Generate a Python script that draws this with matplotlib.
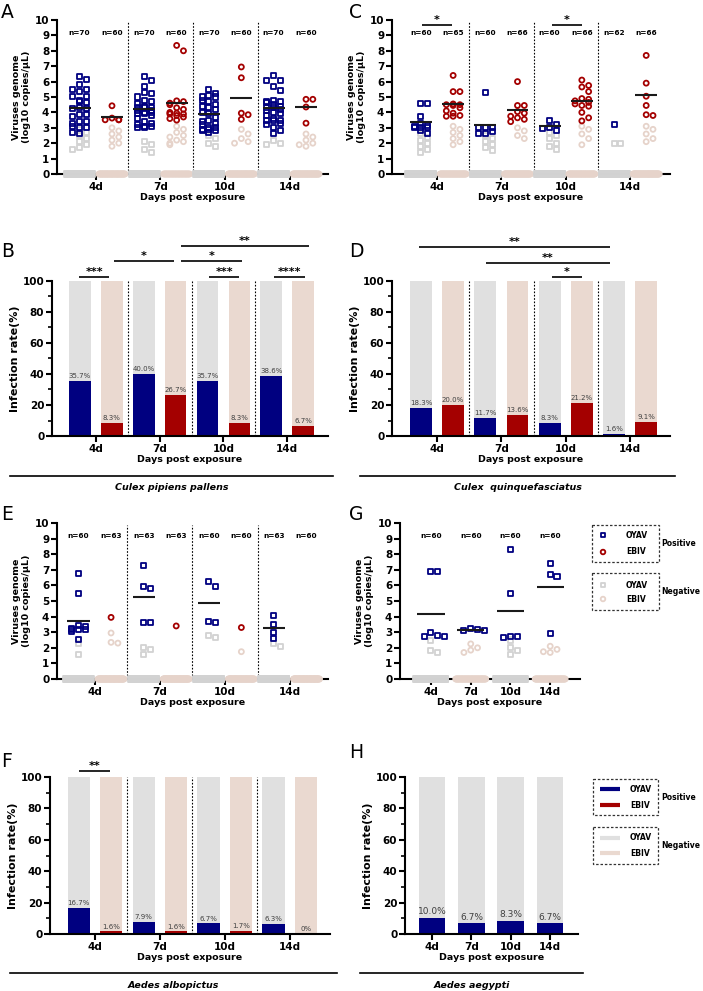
import numpy as np
import matplotlib
matplotlib.use("Agg")
import matplotlib.pyplot as plt
from matplotlib.patches import Rectangle

W, H = 703, 991
plt.rcParams['font.family'] = ['DejaVu Sans']
plt.rcParams['font.weight'] = 'bold'
plt.rcParams['axes.labelweight'] = 'bold'

NAVY = '#000080'
RED = '#a40000'
GRAY_BG = '#e0e0e0'
PINK_BG = '#ead9d0'
GRAY_NEG = '#d2d2d2'
PINK_NEG = '#e6d3ca'

days = ['4d', '7d', '10d', '14d']

# ---------------- Panel A (Culex pipiens pallens, viral load) ----------------
A_oyav_pos = [
    [6.33, 6.16, 5.8, 5.5, 5.46, 5.35, 5.03, 5.03, 4.8, 4.7, 4.65, 4.3, 4.28, 4.28,
     3.85, 3.85, 3.75, 3.4, 3.4, 3.3, 3.1, 3.0, 3.0, 2.7, 2.6],
    [6.3, 6.1, 5.7, 5.3, 5.2, 5.0, 4.8, 4.7, 4.6, 4.4, 4.0, 4.35, 4.3, 4.3, 3.9, 4.15,
     4.1, 4.0, 3.9, 3.8, 3.6, 3.4, 3.3, 3.2, 3.1, 3.1, 3.0, 3.0],
    [5.5, 5.2, 5.1, 5.0, 5.0, 4.8, 4.7, 4.5, 4.4, 4.3, 4.2, 4.0, 3.9, 3.7, 3.5, 3.4,
     3.3, 3.2, 3.0, 3.0, 2.9, 2.9, 2.8, 2.8, 2.7],
    [6.4, 6.1, 6.05, 5.7, 5.4, 4.75, 4.7, 4.7, 4.65, 4.5, 4.4, 4.3, 4.3, 4.2, 4.1, 4.0,
     3.9, 3.8, 3.6, 3.5, 3.5, 3.45, 3.3, 3.2, 3.0, 2.8, 2.6],
]
A_ebiv_pos = [
    [4.43, 3.63, 3.52, 3.52, 3.52],
    [8.35, 8.0, 4.75, 4.7, 4.6, 4.5, 4.3, 4.2, 4.0, 3.95, 3.9, 3.9, 3.8, 3.7, 3.6, 3.5],
    [6.95, 6.25, 3.95, 3.85, 3.55],
    [4.85, 4.85, 4.35, 3.3],
]
A_oyav_neg = [[2.9, 2.7, 2.5, 2.3, 2.1, 1.9, 1.7, 1.6], [2.1, 1.9, 1.6, 1.4],
              [2.5, 2.3, 2.0, 1.8], [2.2, 2.0, 1.9]]
A_ebiv_neg = [[3.0, 2.8, 2.6, 2.4, 2.2, 2.0, 1.8], [3.1, 2.9, 2.7, 2.5, 2.4, 2.2, 2.1, 2.0, 1.9],
              [2.9, 2.6, 2.3, 2.1, 2.0], [2.6, 2.4, 2.2, 2.0, 1.9, 1.8]]
A_n_oyav = [70, 70, 70, 70]
A_n_ebiv = [60, 60, 60, 60]

# ---------------- Panel C (Culex quinquefasciatus, viral load) ----------------
C_oyav_pos = [
    [4.6, 4.6, 3.75, 3.25, 3.15, 3.1, 3.05, 3.05, 3.0, 2.85, 2.65],
    [5.3, 3.05, 3.05, 3.05, 2.75, 2.6, 2.6],
    [3.5, 3.2, 3.05, 2.95, 2.85],
    [3.2],
]
C_ebiv_pos = [
    [6.4, 5.35, 5.35, 4.55, 4.5, 4.5, 4.45, 4.3, 4.1, 3.95, 3.8, 3.75, 3.75],
    [6.0, 4.45, 4.45, 4.05, 3.95, 3.75, 3.65, 3.55, 3.4],
    [6.1, 5.75, 5.65, 5.35, 4.9, 4.85, 4.75, 4.65, 4.55, 4.45, 4.4, 4.0, 3.65, 3.45],
    [7.7, 5.9, 5.05, 4.45, 3.85, 3.8],
]
C_oyav_neg = [[2.6, 2.4, 2.2, 2.0, 1.8, 1.6, 1.4], [2.5, 2.3, 2.1, 1.9, 1.7, 1.5],
              [2.7, 2.5, 2.3, 2.0, 1.8, 1.6], [2.0, 1.95]]
C_ebiv_neg = [[3.1, 2.9, 2.7, 2.5, 2.3, 2.1, 1.9], [3.0, 2.8, 2.5, 2.3],
              [3.1, 2.9, 2.6, 2.3, 1.9], [3.1, 2.9, 2.6, 2.3, 2.1]]
C_n_oyav = [60, 60, 60, 62]
C_n_ebiv = [65, 66, 66, 66]

# ---------------- Panel E (Aedes albopictus, viral load) ----------------
E_oyav_pos = [
    [6.75, 5.5, 3.4, 3.35, 3.25, 3.2, 3.2, 3.2, 3.05, 2.55],
    [7.25, 5.95, 5.8, 3.65, 3.6],
    [6.25, 5.9, 3.7, 3.6],
    [4.05, 3.5, 3.0, 2.6],
]
E_ebiv_pos = [[3.95], [3.4], [3.3], []]
E_oyav_neg = [[2.3, 1.6], [2.05, 1.9, 1.6], [2.8, 2.65], [2.3, 2.1]]
E_ebiv_neg = [[2.95, 2.35, 2.3], [], [1.75], []]
E_n_oyav = [60, 63, 60, 63]
E_n_ebiv = [63, 63, 60, 60]

# ---------------- Panel G (Aedes aegypti, viral load) ----------------
G_oyav_pos = [
    [6.9, 6.9, 2.95, 2.8, 2.75, 2.7],
    [3.25, 3.2, 3.1, 3.1],
    [8.3, 5.45, 2.7, 2.7, 2.65],
    [7.4, 6.7, 6.55, 2.9],
]
G_neg = [[2.45, 1.8, 1.7], [2.25, 2.0, 1.85, 1.7], [2.5, 2.0, 1.8, 1.6], [2.1, 1.9, 1.75, 1.7]]
G_n = [60, 60, 60, 60]

# ---------------- Infection rates (%) ----------------
B_oyav = [35.7, 40.0, 35.7, 38.6]
B_ebiv = [8.3, 26.7, 8.3, 6.7]
D_oyav = [18.3, 11.7, 8.3, 1.6]
D_ebiv = [20.0, 13.6, 21.2, 9.1]
F_oyav = [16.7, 7.9, 6.7, 6.3]
F_ebiv = [1.6, 1.6, 1.7, 0.0]
H_oyav = [10.0, 6.7, 8.3, 6.7]

# significance annotations: (x0, x1, y, label)
B_sig = [(-0.27, 0.21, 102.6, '***'), (0.29, 1.22, 112.9, '*'), (1.33, 2.29, 112.9, '*'),
         (1.33, 3.34, 122.6, '**'), (1.78, 2.25, 102.6, '***'), (2.80, 3.28, 102.6, '****')]
D_sig = [(-0.28, 2.69, 121.7, '**'), (0.76, 2.69, 111.8, '**'), (1.78, 2.25, 102.8, '*')]
F_sig = [(-0.25, 0.23, 104.0, '**')]
C_sig = [(-0.23, 0.23, 9.68, '*'), (1.79, 2.25, 9.68, '*')]

fig = plt.figure(figsize=(W / 100, H / 100), dpi=100)


def make_ax(l, r, t, b, xlim, ylim):
    ax = fig.add_axes([l / W, 1 - b / H, (r - l) / W, (b - t) / H])
    ax.set_xlim(*xlim)
    ax.set_ylim(*ylim)
    for s in ['top', 'right']:
        ax.spines[s].set_visible(False)
    for s in ['left', 'bottom']:
        ax.spines[s].set_linewidth(1.5)
    ax.tick_params(width=1.5, length=4, labelsize=7.5, pad=1.5)
    ax.patch.set_alpha(0)
    return ax


def px_per_unit(ax):
    pos = ax.get_position()
    xl = ax.get_xlim()
    yl = ax.get_ylim()
    return pos.width * W / (xl[1] - xl[0]), pos.height * H / (yl[1] - yl[0])


def swarm(vals, center, ppx, ppy, d=6.8, maxhalf=14):
    offs = [0.0]
    k = 1
    while k * d <= maxhalf + 0.01:
        offs += [k * d, -k * d]
        k += 1
    placed = []
    xs = []
    for i, v in enumerate(vals):
        yp = v * ppy
        chosen = None
        for o in offs:
            if all(abs(o - px) >= d * 0.9 or abs(yp - py) >= d * 0.9 for px, py in placed):
                chosen = o
                break
        if chosen is None:
            chosen = offs[i % len(offs)]
        placed.append((chosen, yp))
        xs.append(center + chosen / ppx)
    return np.array(xs)


def draw_group(ax, c, pos, neg, n, col, negcol, mk, ppx, ppy, halfw=13, meanhalf=0.17, d=6.8):
    pos = sorted(pos, reverse=True)
    neg = sorted(neg, reverse=True)
    nz = n - len(pos) - len(neg)
    if nz > 0:
        xz = np.linspace(c - halfw / ppx, c + halfw / ppx, nz)
        ax.scatter(xz, np.zeros(nz), marker=mk, s=13, facecolors='none', edgecolors=negcol,
                   linewidths=1.3, clip_on=False, zorder=3)
    if neg:
        xn = swarm(neg, c, ppx, ppy, d=d, maxhalf=halfw)
        ax.scatter(xn, neg, marker=mk, s=13, facecolors='none', edgecolors=negcol,
                   linewidths=1.3, clip_on=False, zorder=3)
    if pos:
        xp = swarm(pos, c, ppx, ppy, d=d, maxhalf=halfw)
        ax.scatter(xp, pos, marker=mk, s=13, facecolors='none', edgecolors=col,
                   linewidths=1.3, clip_on=False, zorder=4)
    if len(pos) >= 2:
        ax.hlines(np.mean(pos), c - meanhalf, c + meanhalf, color='#1a1a1a', lw=1.5, zorder=5)


def scatter_panel(ax, oy_pos, eb_pos, oy_neg, eb_neg, n_oy, n_eb, sep=True):
    ppx, ppy = px_per_unit(ax)
    for i in range(4):
        draw_group(ax, i - 0.25, oy_pos[i], oy_neg[i], n_oy[i], NAVY, GRAY_NEG, 's', ppx, ppy)
        draw_group(ax, i + 0.25, eb_pos[i], eb_neg[i], n_eb[i], RED, PINK_NEG, 'o', ppx, ppy)
        ax.text(i - 0.25, 9.15, f'n={n_oy[i]}', ha='center', va='center', fontsize=5.3)
        ax.text(i + 0.25, 9.15, f'n={n_eb[i]}', ha='center', va='center', fontsize=5.3)
    if sep:
        ax.vlines([0.5, 1.5, 2.5], 0, 9.85, colors='k', linestyles=(0, (1.5, 1.5)), lw=0.8)
    ax.set_yticks(range(0, 11))
    ax.set_xticks(range(4))
    ax.set_xticklabels(days)
    ax.set_ylabel('Viruses genome\n(log10 copies/μL)', fontsize=6.8, labelpad=3, linespacing=1.1)
    ax.set_xlabel('Days post exposure', fontsize=6.8, labelpad=1)


def fmt(v):
    return '0%' if v == 0 else f'{v:.1f}%'


def bar_panel(ax, oy, eb=None, width=0.34, off=0.25, lab_fs=5.0):
    x = np.arange(4)
    if eb is None:
        ax.bar(x, 100, width, color=GRAY_BG, zorder=1)
        ax.bar(x, oy, width, color=NAVY, zorder=2)
        for xi, v in zip(x, oy):
            ax.text(xi, v + 1.2, fmt(v), ha='center', va='bottom', fontsize=lab_fs,
                    color='#404040', weight='normal')
    else:
        ax.bar(x - off, 100, width, color=GRAY_BG, zorder=1)
        ax.bar(x + off, 100, width, color=PINK_BG, zorder=1)
        ax.bar(x - off, oy, width, color=NAVY, zorder=2)
        ax.bar(x + off, eb, width, color=RED, zorder=2)
        for xi, v in zip(x - off, oy):
            ax.text(xi, v + 1.2, fmt(v), ha='center', va='bottom', fontsize=lab_fs,
                    color='#404040', weight='normal')
        for xi, v in zip(x + off, eb):
            ax.text(xi, v + 1.2, fmt(v), ha='center', va='bottom', fontsize=lab_fs,
                    color='#404040', weight='normal')
        ax.vlines([0.5, 1.5, 2.5], 0, 100, colors='k', linestyles=(0, (1.5, 1.5)), lw=0.8, zorder=3)
    ax.set_yticks(range(0, 101, 20))
    ax.set_yticks(range(10, 100, 20), minor=True)
    ax.tick_params(which='minor', width=1.2, length=3)
    ax.set_xticks(range(4))
    ax.set_xticklabels(days)
    ax.set_ylabel('Infection rate(%)', fontsize=8, labelpad=2)
    ax.set_xlabel('Days post exposure', fontsize=6.8, labelpad=1)


def sig(ax, items, fs=8):
    for x0, x1, y, t in items:
        ax.plot([x0, x1], [y, y], color='k', lw=1.2, clip_on=False, solid_capstyle='butt')
        ax.annotate(t, xy=((x0 + x1) / 2, y), xytext=(0, 1.5), textcoords='offset points',
                    ha='center', va='baseline', fontsize=fs, annotation_clip=False)


# ---- A
axA = make_ax(57, 328, 20, 174, (-0.60, 3.59), (0, 10))
scatter_panel(axA, A_oyav_pos, A_ebiv_pos, A_oyav_neg, A_ebiv_neg, A_n_oyav, A_n_ebiv)

# ---- C
axC = make_ax(392, 670, 20, 174, (-0.70, 3.62), (0, 10))
scatter_panel(axC, C_oyav_pos, C_ebiv_pos, C_oyav_neg, C_ebiv_neg, C_n_oyav, C_n_ebiv)
sig(axC, C_sig)

# ---- B
axB = make_ax(52, 328, 281, 436, (-0.69, 3.64), (0, 100))
bar_panel(axB, B_oyav, B_ebiv)
sig(axB, B_sig)

# ---- D
axD = make_ax(392, 670, 281, 436, (-0.70, 3.62), (0, 100))
bar_panel(axD, D_oyav, D_ebiv)
sig(axD, D_sig)

# ---- E
axE = make_ax(57, 328, 523, 679, (-0.58, 3.58), (0, 10))
scatter_panel(axE, E_oyav_pos, E_ebiv_pos, E_oyav_neg, E_ebiv_neg, E_n_oyav, E_n_ebiv)

# ---- G
axG = make_ax(400, 580, 523, 679, (-0.78, 3.75), (0, 10))
ppx, ppy = px_per_unit(axG)
G_neg_style = [(GRAY_NEG, 's'), (PINK_NEG, 'o'), (GRAY_NEG, 's'), (PINK_NEG, 'o')]
for i in range(4):
    nc, nm = G_neg_style[i]
    neg = sorted(G_neg[i], reverse=True)
    nz = G_n[i] - len(G_oyav_pos[i]) - len(neg)
    xz = np.linspace(i - 15 / ppx, i + 15 / ppx, nz)
    axG.scatter(xz, np.zeros(nz), marker=nm, s=13, facecolors='none', edgecolors=nc,
                linewidths=1.3, clip_on=False, zorder=3)
    xn = swarm(neg, i, ppx, ppy, maxhalf=14)
    axG.scatter(xn, neg, marker=nm, s=13, facecolors='none', edgecolors=nc,
                linewidths=1.3, clip_on=False, zorder=3)
    pos = sorted(G_oyav_pos[i], reverse=True)
    xp = swarm(pos, i, ppx, ppy, maxhalf=14)
    axG.scatter(xp, pos, marker='s', s=13, facecolors='none', edgecolors=NAVY,
                linewidths=1.3, clip_on=False, zorder=4)
    axG.hlines(np.mean(pos), i - 0.34, i + 0.34, color='#1a1a1a', lw=1.5, zorder=5)
    axG.text(i, 9.15, f'n={G_n[i]}', ha='center', va='center', fontsize=5.3)
axG.set_yticks(range(0, 11))
axG.set_xticks(range(4))
axG.set_xticklabels(days)
axG.set_ylabel('Viruses genome\n(log10 copies/μL)', fontsize=6.8, labelpad=3, linespacing=1.1)
axG.set_xlabel('Days post exposure', fontsize=6.8, labelpad=1)

# ---- F
axF = make_ax(50, 330, 777, 934, (-0.69, 3.62), (0, 100))
bar_panel(axF, F_oyav, F_ebiv)
sig(axF, F_sig)

# ---- H
axH = make_ax(405, 578, 777, 934, (-0.69, 3.71), (0, 100))
bar_panel(axH, H_oyav, None, width=0.68, lab_fs=6.5)

# ---------------- overlay: letters, species, legends ----------------
ov = fig.add_axes([0, 0, 1, 1], zorder=10)
ov.set_xlim(0, W)
ov.set_ylim(H, 0)
ov.axis('off')
ov.patch.set_alpha(0)

for lab, x, y in [('A', 1, 3), ('C', 349, 3), ('B', 1, 242), ('D', 349, 242),
                  ('E', 1, 505), ('G', 349, 505), ('F', 1, 752), ('H', 349, 743)]:
    ov.text(x, y, lab, fontsize=13.5, weight='normal', ha='left', va='top')

for x0, x1, y, name in [(10, 333, 476, 'Culex pipiens pallens'),
                        (360, 675, 476, 'Culex  quinquefasciatus'),
                        (10, 337, 973, 'Aedes albopictus'),
                        (360, 583, 973, 'Aedes aegypti')]:
    ov.plot([x0, x1], [y, y], color='k', lw=1.2)
    ov.text((x0 + x1) / 2, y + 12, name, ha='center', va='center', fontsize=6.8,
            style='italic')


def dbox(x0, y0, x1, y1):
    ov.add_patch(Rectangle((x0, y0), x1 - x0, y1 - y0, fill=False, ec='#333333',
                           lw=0.9, ls=(0, (2, 1.5))))


# legend for G (markers)
dbox(592, 525, 659, 562)
dbox(592, 573, 659, 610)
ov.scatter([603], [535], marker='s', s=11, facecolors='none', edgecolors=NAVY, linewidths=1.3)
ov.scatter([603], [552], marker='o', s=11, facecolors='none', edgecolors=RED, linewidths=1.3)
ov.scatter([603], [585], marker='s', s=11, facecolors='none', edgecolors=GRAY_NEG, linewidths=1.3)
ov.scatter([603], [599], marker='o', s=11, facecolors='none', edgecolors=PINK_NEG, linewidths=1.3)
for y, t in [(535, 'OYAV'), (552, 'EBIV'), (585, 'OYAV'), (599, 'EBIV')]:
    ov.text(626, y, t, fontsize=5.5, ha='left', va='center')
ov.text(661, 543, 'Positive', fontsize=5.5, ha='left', va='center')
ov.text(661, 592, 'Negative', fontsize=5.5, ha='left', va='center')

# legend for H (bars)
dbox(593, 779, 658, 815)
dbox(593, 827, 658, 864)
for y, c in [(789, NAVY), (805, RED), (838, GRAY_BG), (853, PINK_BG)]:
    ov.plot([600, 620], [y, y], color=c, lw=3, solid_capstyle='butt')
for y, t in [(789, 'OYAV'), (805, 'EBIV'), (838, 'OYAV'), (853, 'EBIV')]:
    ov.text(630, y, t, fontsize=5.5, ha='left', va='center')
ov.text(661, 797, 'Positive', fontsize=5.5, ha='left', va='center')
ov.text(661, 846, 'Negative', fontsize=5.5, ha='left', va='center')

fig.savefig('out.png', dpi=100)
